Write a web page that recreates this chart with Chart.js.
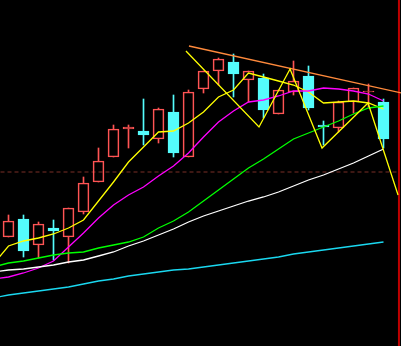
<!DOCTYPE html>
<html>
<head>
<meta charset="utf-8">
<style>
  html, body { margin: 0; padding: 0; background: #000; }
  canvas { display: block; }
</style>
<script src="https://cdn.jsdelivr.net/npm/chart.js@4"></script>
</head>
<body>
<canvas id="kline" width="401" height="346"></canvas>
<script>
// candle values (price units, one per trading day)
const opens  = [109,127,101,118,109,134,164,189,217,215,207,234,189,257,275,284,266,268,232,254,270,221,218,244,254,244];
const closes = [125,95,122,115,138,163,185,217,219,211,237,193,254,275,287,272,275,236,256,265,238,219,244,258,255,207];
const highs  = [131,131,124,126,138,169,198,221,221,247,238,251,256,275,288,292,275,272,256,285,280,225,245,258,262,247];
const lows   = [109,89,88,86,83,132,164,189,198,201,203,189,189,253,261,249,244,228,232,251,236,201,214,233,239,198];

// moving averages, first value belongs to the day before the first candle
const ma5  = [82,100,105,108,112,118,126,145,164,184,199,214,215,223,234,249,256,273,269,265,261,254,243,244,245,243,237];
const ma10 = [67,69,73,78,85,99,113,128,141,151,159,170,180,193,209,224,235,244,246,250,255,255,258,257,255,252,245];
const ma20 = [79,83,85,88,91,93,94,98,101,104,109,118,125,134,145,156,167,178,187,197,207,213,219,225,232,238,240];
const ma30 = [74,76,77,79,81,84,86,90,94,100,105,111,117,124,130,135,140,145,149,154,160,166,171,177,183,190,197];
const ma60 = [48,51,53,55,57,59,62,65,67,70,72,74,76,77,79,81,83,85,87,89,92,94,96,98,100,102,104];

// drawn lines (day index, price)
const zigX = [11.83, 16.7, 18.77, 20.9, 23.97, 25.97];
const zigY = [295, 219, 277, 198, 243, 151];
const trendX = [12.03, 26.2];
const trendY = [300, 253];
const refLevel = 174;
const lastDay = 26.03;

const RED = '#ff5454';
const CYAN = '#54fcfc';

const up = opens.map((o, i) => closes[i] >= o);
const candleColor = up.map(u => u ? RED : CYAN);

const bodies = opens.map((o, i) => ({ x: i, y: [o, closes[i]] }));
const upperWicks = opens.map((o, i) => ({ x: i, y: [Math.max(o, closes[i]), highs[i]] }));
const lowerWicks = opens.map((o, i) => ({ x: i, y: [lows[i], Math.min(o, closes[i])] }));

function maLine(values, color) {
    return {
        type: 'line',
        data: values.map((v, k) => ({ x: k - 1, y: v })),
        borderColor: color,
        borderWidth: 1.3,
        pointRadius: 0,
        tension: 0,
        order: 1
    };
}

function plainLine(xs, ys, color, extra) {
    return Object.assign({
        type: 'line',
        data: xs.map((x, k) => ({ x: x, y: ys[k] })),
        borderColor: color,
        borderWidth: 1.3,
        pointRadius: 0,
        tension: 0,
        order: 0
    }, extra || {});
}

const datasets = [
    // candles (drawn under the lines)
    { type: 'bar', data: upperWicks, backgroundColor: candleColor, barThickness: 1, grouped: false, order: 5 },
    { type: 'bar', data: lowerWicks, backgroundColor: candleColor, barThickness: 1, grouped: false, order: 5 },
    {
        type: 'bar', data: bodies,
        backgroundColor: up.map(u => u ? 'rgba(0,0,0,0)' : CYAN),
        borderColor: candleColor, borderWidth: 1, borderSkipped: false,
        barThickness: 11, grouped: false, order: 4
    },
    // reference level and right edge
    plainLine([-1, 26], [refLevel, refLevel], '#7a2e26', { borderDash: [4, 3], borderWidth: 1, order: 6 }),
    plainLine([lastDay, lastDay], [0, 346], '#c00000', { borderWidth: 2, order: 3 }),
    // moving averages
    maLine(ma60, '#1ad8f0'),
    maLine(ma30, '#ffffff'),
    maLine(ma20, '#00ff00'),
    maLine(ma10, '#ff00ff'),
    maLine(ma5, '#ffff00'),
    // drawn lines
    plainLine(zigX, zigY, '#ffff00'),
    plainLine(trendX, trendY, '#ff8a3c')
];

new Chart(document.getElementById('kline'), {
    type: 'bar',
    data: { datasets: datasets },
    options: {
        responsive: false,
        animation: false,
        events: [],
        layout: { padding: 0 },
        plugins: { legend: { display: false }, tooltip: { enabled: false } },
        scales: {
            x: { type: 'linear', min: -0.5667, max: 26.1667, offset: false, display: false },
            y: { type: 'linear', min: 0, max: 346, display: false }
        }
    }
});
</script>
</body>
</html>
